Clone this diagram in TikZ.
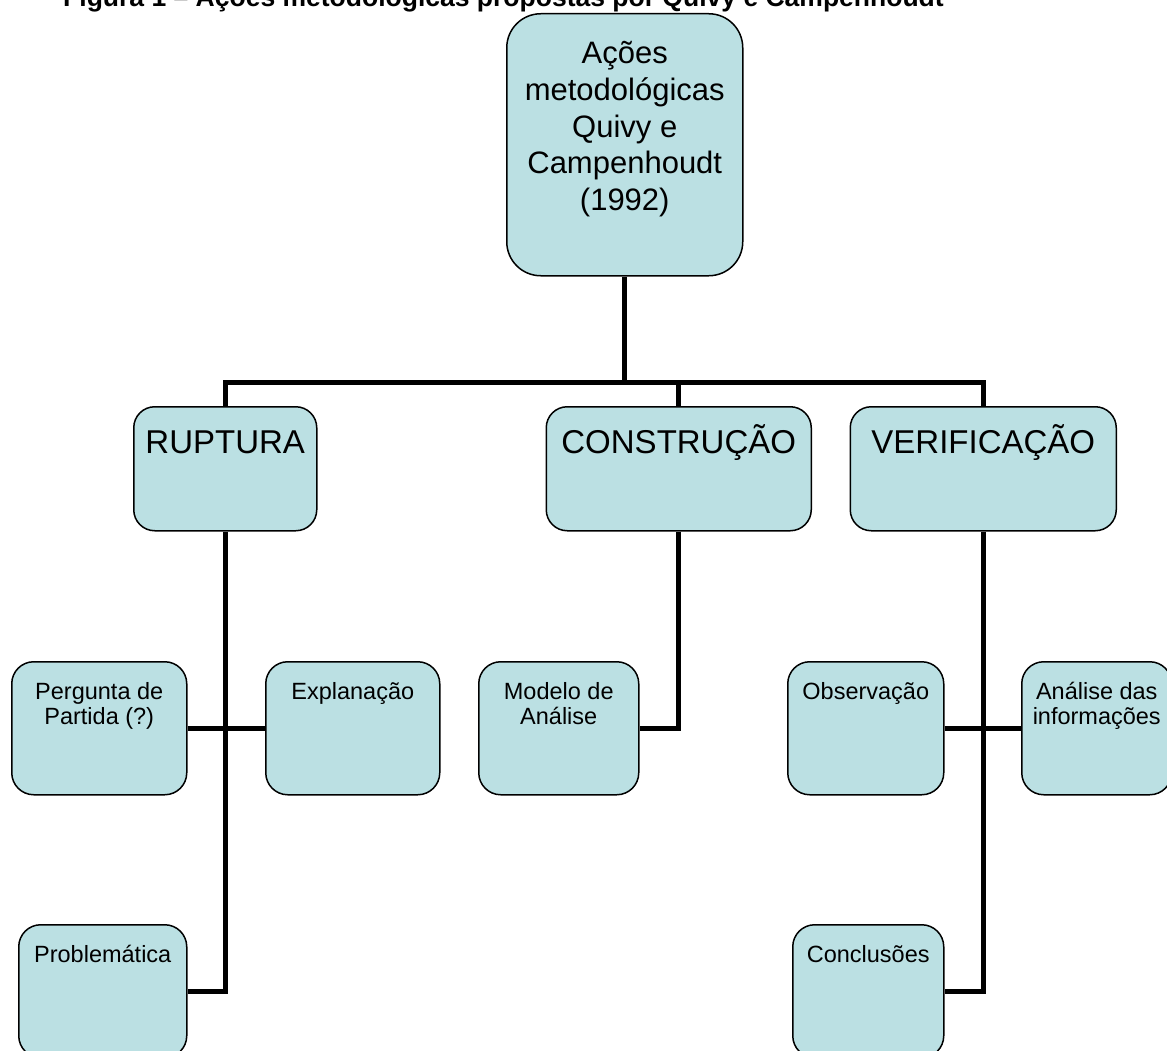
\documentclass[tikz,border=0pt]{standalone}
\usepackage{fontspec}
\setmainfont{Liberation Sans}
\usepackage{tikz}
\usepackage{xcolor}
\definecolor{caixa}{RGB}{187,224,227}
\newcommand{\boxtext}[4]{\parbox[t][#2][t]{#1}{\centering\rule{0pt}{#3}#4}}
\tikzset{
    acao-box/.style = {draw=black, fill=caixa, line width=1.5pt, rectangle, rounded corners=34pt, inner sep=0pt, anchor=north west, font=\fontsize{31}{36.75}\selectfont},
    etapa-box/.style = {draw=black, fill=caixa, line width=1.5pt, rectangle, rounded corners=21pt, inner sep=0pt, anchor=north west, font=\fontsize{33}{38}\selectfont},
    passo-box/.style = {draw=black, fill=caixa, line width=1.5pt, rectangle, rounded corners=22pt, inner sep=0pt, anchor=north west, font=\fontsize{23.5}{25}\selectfont},
    ligacao-line/.style = {draw=black, line width=5pt},
    figura-title/.style = {inner sep=0pt, anchor=base west, font=\fontsize{26.5}{30}\selectfont\bfseries},
}
\begin{document}
\begin{tikzpicture}[x=1pt, y=-1pt]
\useasboundingbox (0,0) rectangle (1167,1051);
\clip (0,0) rectangle (1167,1051);
\node[figura-title] (titulo) at (63,7) {Figura 1 – Ações metodológicas propostas por Quivy e Campenhoudt};

% topo
\node[acao-box] (acoes) at (506,13) {\boxtext{236pt}{262pt}{50pt}{Ações\\metodológicas\\Quivy e\\Campenhoudt\\(1992)}};

% etapas
\node[etapa-box] (ruptura) at (133,406) {\boxtext{183pt}{124pt}{47pt}{RUPTURA}};
\node[etapa-box] (construcao) at (545.5,406) {\boxtext{265pt}{124pt}{47pt}{CONSTRUÇÃO}};
\node[etapa-box] (verificacao) at (849.5,406) {\boxtext{266pt}{124pt}{47pt}{VERIFICAÇÃO}};

% passos
\node[passo-box] (pergunta) at (11,661) {\boxtext{175pt}{133pt}{38pt}{Pergunta de\\Partida (?)}};
\node[passo-box] (explanacao) at (265,661) {\boxtext{174pt}{133pt}{38pt}{Explanação}};
\node[passo-box] (problematica) at (18,924) {\boxtext{168pt}{133pt}{38pt}{Problemática}};
\node[passo-box] (modelo) at (478,661) {\boxtext{160pt}{133pt}{38pt}{Modelo de\\Análise}};
\node[passo-box] (observacao) at (787,661) {\boxtext{156pt}{133pt}{38pt}{Observação}};
\node[passo-box] (analise) at (1021,661) {\boxtext{150pt}{133pt}{38pt}{Análise das\\informações}};
\node[passo-box] (conclusoes) at (792,924) {\boxtext{151pt}{133pt}{38pt}{Conclusões}};

% ligacoes
\coordinate (barra) at (acoes.south |- 0,382);
\draw[ligacao-line] (acoes.south) -- (barra) -| (ruptura.north);
\draw[ligacao-line] (barra) -| (construcao.north);
\draw[ligacao-line] (barra) -| (verificacao.north);
\draw[ligacao-line] (ruptura.south) |- (problematica.east);
\draw[ligacao-line] (pergunta.east) -- (explanacao.west);
\draw[ligacao-line] (construcao.south) |- (modelo.east);
\draw[ligacao-line] (verificacao.south) |- (conclusoes.east);
\draw[ligacao-line] (observacao.east) -- (analise.west);
\end{tikzpicture}
\end{document}
